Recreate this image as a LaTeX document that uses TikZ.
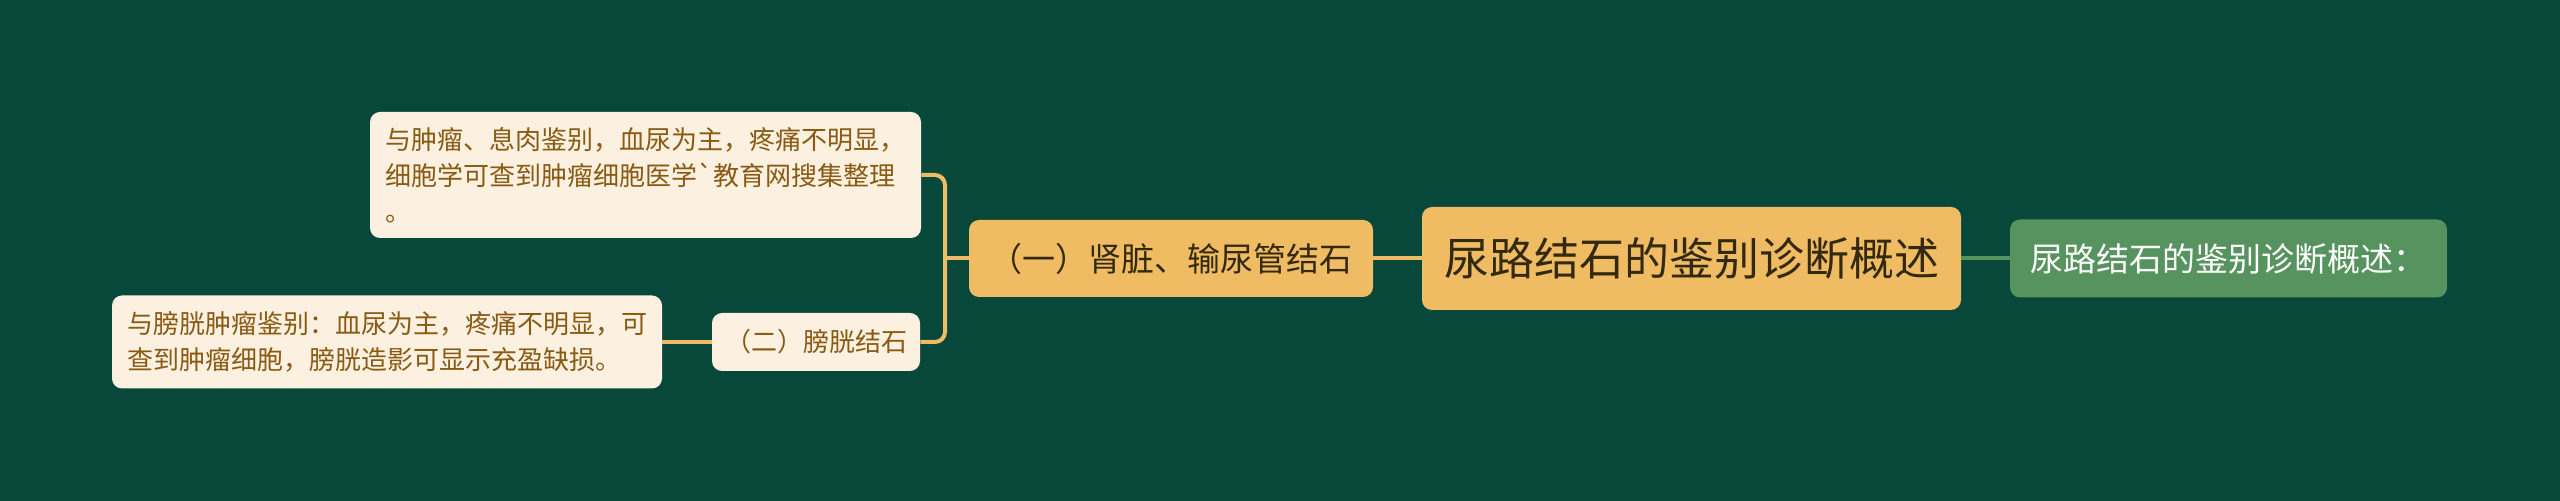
\documentclass[tikz,border=0pt]{standalone}
\usepackage{fontspec}
\setmainfont{Noto Sans CJK SC}[Ligatures=TeXOff]
\usetikzlibrary{calc}
\definecolor{bgcol}{HTML}{07483A}
\definecolor{rootcol}{HTML}{F0BC63}
\definecolor{leafcol}{HTML}{FCF0E1}
\definecolor{leaftext}{HTML}{8A5A13}
\definecolor{darktext}{HTML}{33290F}
\definecolor{notecol}{HTML}{56935E}
\tikzset{
  box/.style={rounded corners=5pt,inner sep=0pt,align=center},
  rootbox/.style={box,fill=rootcol,text=darktext,minimum width=269.5pt,
                  minimum height=51.5pt,font=\fontsize{22.5}{27}\selectfont},
  subbox/.style={box,fill=rootcol,text=darktext,font=\fontsize{16.5}{20}\selectfont},
  leafbox/.style={box,fill=leafcol,text=leaftext,align=left,
                  font=\fontsize{13}{18}\selectfont},
  notebox/.style={box,fill=notecol,text=white,minimum width=218.5pt,
                  minimum height=39pt,font=\fontsize{16.5}{20}\selectfont},
  link/.style={line width=2pt,rootcol},
  notelink/.style={line width=2pt,notecol}
}

\begin{document}
\begin{tikzpicture}[x=0.5pt,y=-0.5pt]
  % BACKGROUND
  \fill[bgcol] (0,0) rectangle (2560,501);
  \useasboundingbox (0,0) rectangle (2560,501);

  % NODES
  \node[rootbox] (root) at (1691.5,258.5) {尿路结石的鉴别诊断概述};
  \node[notebox] (note) at (2228.5,258.5) {尿路结石的鉴别诊断概述：};
  \node[subbox,minimum width=202pt,minimum height=38.5pt] (lvla) at (1171,258.5)
       {（一）肾脏、输尿管结石};
  \node[subbox,minimum width=104pt,minimum height=29pt,
        font=\fontsize{13}{16}\selectfont,fill=leafcol,text=leaftext] (lvlb) at (816,342)
       {（二）膀胱结石};
  \node[leafbox,minimum width=275.5pt,minimum height=63pt] (leafa) at (645.5,175)
       {与肿瘤、息肉鉴别，血尿为主，疼痛不明显，\\
        细胞学可查到肿瘤细胞医学`教育网搜集整理\\
        。};
  \node[leafbox,minimum width=275pt,minimum height=46.5pt] (leafb) at (387,342)
       {与膀胱肿瘤鉴别：血尿为主，疼痛不明显，可\\
        查到肿瘤细胞，膀胱造影可显示充盈缺损。};

  % LINKS
  \coordinate (J) at (945,258.5); % bracket joint
  \draw[notelink] (root.east) -- (note.west);
  \draw[link] (root.west) -- (lvla.west -| lvla.east);
  \draw[link] (lvla.west) -- (J);
  \draw[link,rounded corners=5pt] (leafa.east) -| (J) |- (lvlb.east);
  \draw[link] (lvlb.west) -- (leafb.east);
\end{tikzpicture}
\end{document}
